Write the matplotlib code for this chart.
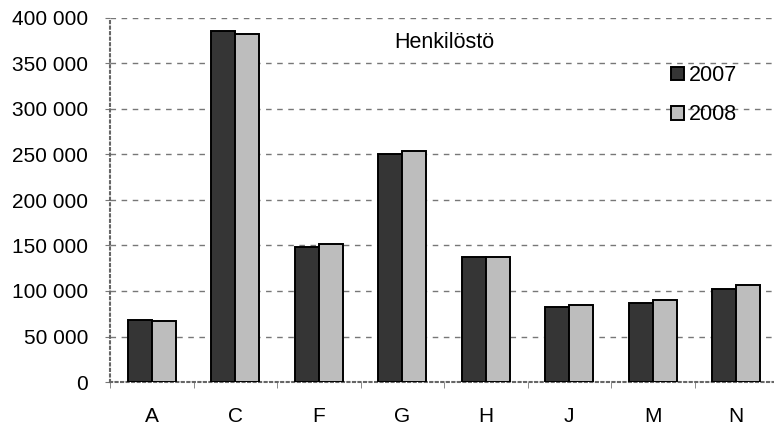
import matplotlib.pyplot as plt
import numpy as np
from matplotlib.ticker import FuncFormatter, FixedLocator

plt.rcParams["font.family"] = ["Liberation Sans", "DejaVu Sans"]

categories = ["A", "C", "F", "G", "H", "J", "M", "N"]
henkilosto_2007 = [68500, 386000, 148000, 250500, 137000, 82800, 87200, 102500]
henkilosto_2008 = [67400, 382500, 152000, 253500, 137700, 84600, 90500, 107000]
series_labels = ["2007", "2008"]

fig = plt.figure(figsize=(7.74, 4.29), dpi=100)
ax = fig.add_axes([110 / 774, 1 - 382 / 429, 664 / 774, 364 / 429])

x = np.arange(len(categories))
width = 0.29
ax.bar(x - width / 2, henkilosto_2007, width, color="#353535", edgecolor="black",
       linewidth=1.4, label=series_labels[0], zorder=3)
ax.bar(x + width / 2, henkilosto_2008, width, color="#bdbdbd", edgecolor="black",
       linewidth=1.4, label=series_labels[1], zorder=3)

ax.set_ylim(0, 400000)
ax.set_xlim(-0.5, -0.5 + 664 / 83.5)
ax.set_yticks(np.arange(0, 400001, 50000))
ax.yaxis.set_major_formatter(FuncFormatter(lambda v, _: f"{int(v):,}".replace(",", " ")))
ax.set_xticks(x)
ax.set_xticklabels(categories)
ax.xaxis.set_minor_locator(FixedLocator(np.arange(-0.5, len(categories) + 0.5, 1)))
ax.tick_params(axis="x", which="major", length=0, pad=18, labelsize=15)
ax.tick_params(axis="x", which="minor", length=4, color="#777777", direction="out")
ax.tick_params(axis="y", length=3.6, color="#777777", labelsize=15, pad=12)

ax.grid(axis="y", linestyle=(0, (4, 4)), color="#777777", linewidth=1.0, zorder=0)
for side in ["top", "right"]:
    ax.spines[side].set_visible(False)
for side in ["left", "bottom"]:
    ax.spines[side].set_linestyle(":")
    ax.spines[side].set_color("#666666")
    ax.spines[side].set_linewidth(1.5)

ax.text((444 - 110) / 664, (382 - 42) / 364, "Henkilöstö", transform=ax.transAxes,
        fontsize=15.5, ha="center", va="center")

ax.legend(loc="upper left", bbox_to_anchor=(671 / 774, 1 - 65 / 429),
          bbox_transform=fig.transFigure, frameon=False, fontsize=15.5,
          handlelength=0.6, handleheight=0.6, handletextpad=0.25, labelspacing=0.85,
          borderaxespad=0, borderpad=0)

fig.savefig("out.png", dpi=100)
